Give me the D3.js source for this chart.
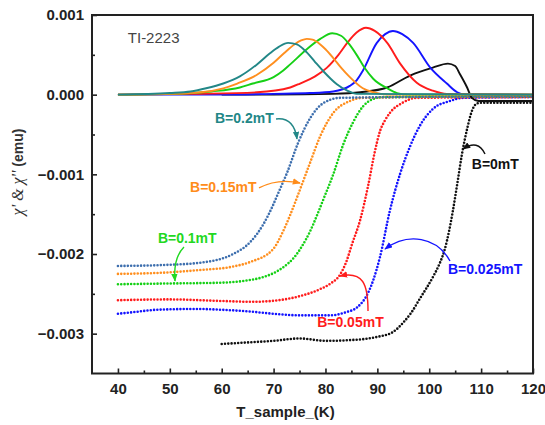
<!DOCTYPE html>
<html>
<head>
<meta charset="utf-8">
<script src="https://cdn.jsdelivr.net/npm/d3@7"></script>
<style>
  body { margin: 0; background: #fff; }
  svg { display: block; font-family: "Liberation Sans", Arial, sans-serif; }
</style>
</head>
<body>
<div id="chart"></div>
<script>
// field labels, one per measurement
const fields = ["B=0mT", "B=0.025mT", "B=0.05mT", "B=0.1mT", "B=0.15mT", "B=0.2mT"];

// chi' (real part), [T (K), emu]
const chiReal0 = [[60,-0.00313],[65,-0.00311],[70,-0.00309],[75,-0.00306],[80,-0.00309],[85,-0.00308],[90,-0.00304],[93,-0.00298],[95,-0.00286],[96.5,-0.00274],[98.2,-0.00256],[100.7,-0.00229],[102,-0.00212],[103,-0.00194],[103.8,-0.00172],[104.5,-0.00148],[105.4,-0.00112],[106.3,-0.00075],[107.3,-0.00043],[108.2,-0.00021],[109.2,-0.00011],[110.5,-0.0001],[120,-0.0001]];
const chiReal025 = [[40,-0.00275],[43,-0.00273],[47.5,-0.0027],[55,-0.00269],[60,-0.0027],[65,-0.00272],[70,-0.00275],[75,-0.00277],[80.9,-0.00277],[84,-0.00273],[86.1,-0.00267],[88.2,-0.00249],[89.2,-0.00233],[90.5,-0.00204],[92.4,-0.00146],[94.4,-0.00099],[96.3,-0.00065],[98.2,-0.00039],[100.7,-0.00018],[104,-0.00008],[106.5,-0.00004],[120,-0.00003]];
const chiReal05 = [[40,-0.00258],[50,-0.00257],[60,-0.00259],[66,-0.0026],[71,-0.00258],[75,-0.00253],[79,-0.00244],[81,-0.00237],[82.8,-0.00226],[84,-0.0021],[85.1,-0.00188],[86.7,-0.00157],[88.2,-0.00115],[89.5,-0.00072],[90.5,-0.00046],[91.5,-0.00032],[92.4,-0.00023],[94.9,-0.0001],[97.6,-0.00004],[120,-0.00003]];
const chiReal1 = [[40,-0.00238],[50,-0.00237],[60,-0.00236],[64,-0.00234],[68,-0.00229],[70,-0.00224],[72,-0.00216],[74,-0.00204],[75.5,-0.0019],[77,-0.00172],[78.4,-0.00151],[79.5,-0.00133],[81.5,-0.001],[83.4,-0.00063],[85.3,-0.00035],[87.2,-0.00015],[89,-0.00006],[91,-0.00003],[120,-0.00002]];
const chiReal15 = [[40,-0.00225],[50,-0.00223],[56,-0.0022],[62,-0.00216],[65.5,-0.0021],[69.9,-0.00194],[71.8,-0.00172],[73.2,-0.00151],[75.1,-0.00119],[77,-0.00086],[79,-0.00052],[81.5,-0.00023],[84.7,-0.00008],[87.2,-0.00004],[120,-0.00002]];
const chiReal2 = [[40,-0.00215],[48,-0.00214],[55.8,-0.00211],[62.2,-0.002],[65.5,-0.00185],[68,-0.00163],[69.8,-0.0014],[71,-0.00122],[72.6,-0.00098],[74.7,-0.00061],[77,-0.0003],[79.5,-0.00011],[82.8,-0.00004],[120,-0.00002]];

// chi'' (imaginary part), [T (K), emu]
const chiImag0 = [[60,0],[70,0],[81.5,0.00001],[86.7,0.00003],[91.9,0.00009],[96.3,0.00024],[100.7,0.00034],[103.6,0.00039],[105,0.00036],[105.9,0.00026],[107.3,0.00009],[108.2,-0.00004],[109.5,-0.00008],[120,-0.00008]];
const chiImag025 = [[40,0],[60,0],[70,0.00001],[77,0.00002],[81.5,0.00004],[84.7,0.00011],[86,0.00018],[87.2,0.0003],[89.9,0.00065],[91.5,0.00076],[93,0.0008],[94.8,0.00076],[96.9,0.00065],[100.2,0.00034],[103.4,0.00014],[105.4,0.00003],[107,0],[120,0]];
const chiImag05 = [[40,0],[55,0.00001],[66.8,0.00003],[73.2,0.00009],[75.1,0.00014],[78,0.00023],[80.3,0.00034],[82.5,0.0005],[84.2,0.00065],[86,0.00078],[87.8,0.00084],[89.5,0.0008],[91.9,0.00065],[94.4,0.00039],[97.6,0.00015],[100.7,0.00005],[103.4,0.00001],[120,0]];
const chiImag1 = [[40,0],[50,0.00001],[58,0.00004],[63.5,0.00009],[66,0.00014],[70,0.00022],[71.8,0.0003],[73.2,0.00038],[76.4,0.00057],[79,0.0007],[81.3,0.00077],[83,0.00074],[84.5,0.00064],[86.1,0.00049],[87.5,0.00034],[89.2,0.0002],[91.9,0.00008],[93.8,0.00002],[96,0],[120,0]];
const chiImag15 = [[40,0],[50,0.00001],[56,0.00003],[60.3,0.00008],[63,0.00014],[66.8,0.00025],[70,0.0004],[72,0.00052],[74,0.00063],[75.3,0.00068],[76.4,0.0007],[77.5,0.00069],[79,0.00063],[80,0.00057],[81.5,0.00046],[83,0.00034],[84.7,0.00022],[87.2,0.00008],[89.2,0.00003],[92,0],[120,0]];
const chiImag2 = [[40,0],[50,0.00002],[54,0.00004],[57,0.00008],[60.3,0.00014],[63.5,0.00023],[66.8,0.00038],[69.3,0.00052],[71,0.0006],[72.8,0.00065],[74.5,0.00063],[76.4,0.00053],[78,0.00041],[79.5,0.0003],[81,0.0002],[82.2,0.00013],[84.2,0.00005],[86,0.00001],[120,0]];

const xTicks = [40, 50, 60, 70, 80, 90, 100, 110, 120];
const yTicks = [0.001, 0, -0.001, -0.002, -0.003];

// label anchor (left, middle) and arrow path, in data units
const labelPos = [[108.2,-0.00087],[103.6,-0.00219],[78.4,-0.00285],[47.7,-0.0018],[53.9,-0.00116],[58.7,-0.000293]];
const arrowPts = [
  [[110.75,-0.000745],[109.4,-0.000556],[106.5,-0.000682]],
  [[104.0,-0.002088],[101.5,-0.001787],[95.9,-0.001724],[91.48,-0.001937]],
  [[88.2,-0.002715],[88.2,-0.002377],[87.24,-0.002213],[82.8,-0.002276]],
  [[52.73,-0.001912],[50.61,-0.00205],[51.0,-0.002339]],
  [[67.19,-0.00117],[70.85,-0.001046],[75.09,-0.001109]],
  [[70.47,-0.000305],[73.94,-0.00028],[74.51,-0.000556]]
];

const realColor = ["#111111", "#1414ff", "#ff1c1c", "#16d016", "#ff8f1f", "#3e6fae"];
const imagColor = ["#111111", "#1414ff", "#ff1c1c", "#16d016", "#ff8f1f", "#228787"];
const labelColor = ["#111111", "#1414ff", "#ff1c1c", "#22d822", "#ff8c1a", "#228787"];

const series = fields.map((f, i) => ({
  name: f,
  real: [chiReal0, chiReal025, chiReal05, chiReal1, chiReal15, chiReal2][i],
  imag: [chiImag0, chiImag025, chiImag05, chiImag1, chiImag15, chiImag2][i]
}));

var width = 545, height = 425;
var m = {left: 92, right: 12, top: 15, bottom: 51.5};

var svg = d3.select("#chart").append("svg")
  .attr("width", width).attr("height", height);

var x = d3.scaleLinear().domain([35, 120]).range([m.left, width - m.right]);
var y = d3.scaleLinear().domain([-0.0035, 0.001]).range([height - m.bottom, m.top]);

var defs = svg.append("defs");
defs.append("clipPath").attr("id", "clip").append("rect")
  .attr("x", m.left).attr("y", m.top)
  .attr("width", x.range()[1] - m.left).attr("height", y.range()[0] - m.top);

labelColor.forEach(function(c, i) {
  defs.append("marker")
    .attr("id", "ah" + i)
    .attr("viewBox", "0 0 10 8")
    .attr("refX", 9).attr("refY", 4)
    .attr("markerUnits", "userSpaceOnUse")
    .attr("markerWidth", 8).attr("markerHeight", 6.5)
    .attr("orient", "auto")
    .append("path").attr("d", "M0,0 L10,4 L0,8 z").attr("fill", c);
});

var line = d3.line()
  .x(function(d) { return x(d[0]); })
  .y(function(d) { return y(d[1]); })
  .curve(d3.curveMonotoneX);

var plot = svg.append("g").attr("clip-path", "url(#clip)");

// chi' - dotted
plot.selectAll("path.real")
  .data(series).enter().append("path")
  .attr("class", "real")
  .attr("d", function(d) { return line(d.real); })
  .attr("fill", "none")
  .attr("stroke", function(d, i) { return realColor[i]; })
  .attr("stroke-width", 2.6)
  .attr("stroke-linecap", "round")
  .attr("stroke-dasharray", "0 3.3");

// chi'' - solid
plot.selectAll("path.imag")
  .data(series).enter().append("path")
  .attr("class", "imag")
  .attr("d", function(d) { return line(d.imag); })
  .attr("fill", "none")
  .attr("stroke", function(d, i) { return imagColor[i]; })
  .attr("stroke-width", 1.9);

// axes, ticks pointing inward
svg.append("g")
  .attr("transform", "translate(0," + y.range()[0] + ")")
  .call(d3.axisBottom(x).tickValues(xTicks).tickSizeInner(-5).tickSizeOuter(0).tickPadding(10));
svg.append("g")
  .attr("transform", "translate(0," + y.range()[0] + ")")
  .call(d3.axisBottom(x).tickValues(xTicks.slice(0, -1).map(function(t) { return t + 5; })).tickSize(-3).tickFormat(""));

svg.append("g")
  .attr("transform", "translate(" + m.left + ",0)")
  .call(d3.axisLeft(y).tickValues(yTicks).tickSizeInner(-5).tickSizeOuter(0).tickPadding(8).tickFormat(d3.format(".3f")));
svg.append("g")
  .attr("transform", "translate(" + m.left + ",0)")
  .call(d3.axisLeft(y).tickValues(yTicks.slice(0, -1).map(function(t) { return t - 0.0005; })).tickSize(-3).tickFormat(""));

svg.selectAll(".domain").remove();
svg.selectAll(".tick line").attr("stroke", "#222").attr("stroke-width", 1.6);
svg.selectAll(".tick text")
  .attr("font-family", "Liberation Sans, Arial, sans-serif")
  .attr("font-size", 15).attr("font-weight", "bold").attr("fill", "#222");

// frame
svg.append("rect")
  .attr("x", m.left).attr("y", m.top)
  .attr("width", x.range()[1] - m.left).attr("height", y.range()[0] - m.top)
  .attr("fill", "none").attr("stroke", "#222").attr("stroke-width", 2);

// axis titles
svg.append("text")
  .attr("x", (m.left + x.range()[1]) / 2 - 27).attr("y", 417)
  .attr("text-anchor", "middle")
  .attr("font-size", 15).attr("font-weight", "bold").attr("fill", "#222")
  .text("T_sample_(K)");

var yl = svg.append("text")
  .attr("transform", "translate(23,172) rotate(-90)")
  .attr("text-anchor", "middle")
  .attr("font-size", 14).attr("font-weight", "bold").attr("fill", "#333");
yl.append("tspan").attr("font-family", "Liberation Serif, serif").attr("font-style", "italic").attr("font-weight", "normal").attr("font-size", 16).text("χ' & χ''");
yl.append("tspan").text(" (emu)");

svg.append("text")
  .attr("x", x(41.9)).attr("y", 43)
  .attr("font-size", 15).attr("fill", "#444")
  .text("TI-2223");

// labels and arrows
var arrowPath = function(p) {
  var q = p.map(function(d) { return [x(d[0]), y(d[1])]; });
  var path = d3.path();
  path.moveTo(q[0][0], q[0][1]);
  if (q.length == 3) path.quadraticCurveTo(q[1][0], q[1][1], q[2][0], q[2][1]);
  else path.bezierCurveTo(q[1][0], q[1][1], q[2][0], q[2][1], q[3][0], q[3][1]);
  return path.toString();
};

svg.selectAll("path.arrow")
  .data(arrowPts).enter().append("path")
  .attr("class", "arrow")
  .attr("d", arrowPath)
  .attr("fill", "none")
  .attr("stroke", function(d, i) { return labelColor[i]; })
  .attr("stroke-width", 1.4)
  .attr("marker-end", function(d, i) { return "url(#ah" + i + ")"; });

svg.selectAll("text.lab")
  .data(fields).enter().append("text")
  .attr("class", "lab")
  .attr("x", function(d, i) { return x(labelPos[i][0]); })
  .attr("y", function(d, i) { return y(labelPos[i][1]); })
  .attr("dy", "0.36em")
  .attr("font-size", 14).attr("font-weight", "bold")
  .attr("fill", function(d, i) { return labelColor[i]; })
  .text(function(d) { return d; });
</script>
</body>
</html>
